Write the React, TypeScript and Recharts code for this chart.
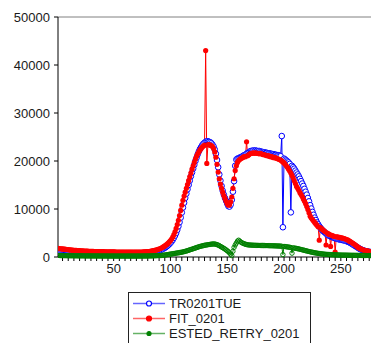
import { LineChart, Line, XAxis, YAxis, ReferenceLine } from 'recharts';

// values for x = 1 .. 288
const tr0201tue = [
  1300, 1280, 1250, 1230, 1200, 1180, 1160, 1140, 1120, 1100,
  1080, 1060, 1050, 1030, 1020, 1000, 990, 980, 970, 960,
  950, 940, 930, 920, 910, 900, 900, 890, 880, 870,
  870, 860, 860, 850, 850, 840, 840, 830, 830, 820,
  820, 820, 810, 810, 800, 800, 800, 790, 790, 790,
  780, 780, 780, 770, 770, 770, 760, 760, 760, 760,
  750, 750, 750, 750, 750, 750, 750, 760, 760, 760,
  770, 770, 780, 790, 800, 810, 820, 840, 860, 880,
  900, 930, 960, 1000, 1040, 1090, 1140, 1200, 1270, 1350,
  1440, 1540, 1650, 1780, 1920, 2080, 2260, 2460, 2690, 2950,
  3240, 3580, 3980, 4450, 5000, 5650, 6400, 7250, 8200, 9250,
  10300, 11300, 12300, 13200, 14100, 15000, 15900, 16800, 17600, 18400,
  19200, 20000, 20700, 21400, 22000, 22500, 22900, 23300, 23600, 23800,
  24000, 24100, 24100, 24000, 23900, 23700, 23400, 23000, 22400, 21500,
  20200, 18700, 17200, 15900, 14800, 13800, 13000, 12300, 11700, 11100,
  10600, 10500, 10900, 11900, 13600, 15800, 19000, 20300, 20500, 20600,
  20700, 20800, 20900, 21100, 21200, 21300, 21500, 21700, 21800, 22000,
  22100, 22100, 22200, 22100, 22200, 22100, 22000, 22100, 22000, 21900,
  21900, 21800, 21800, 21700, 21700, 21600, 21600, 21500, 21500, 21400,
  21400, 21300, 21300, 21200, 21200, 21100, 21000, 25200, 6200, 20500,
  20300, 20100, 19900, 19700, 19400, 9300, 19000, 18700, 18400, 18000,
  17600, 17200, 16800, 16300, 15800, 15300, 14800, 14200, 13600, 13000,
  12300, 11600, 10800, 10100, 9400, 8800, 8200, 7700, 7200, 6800,
  6400, 6100, 5800, 5500, 5300, 5100, 4900, 4700, 4500, 4400,
  4300, 4200, 4100, 4000, 3900, 3850, 3800, 3700, 3650, 3600,
  3550, 3500, 3450, 3400, 3300, 3200, 3100, 3000, 2850, 2700,
  2550, 2400, 2250, 2100, 1950, 1800, 1650, 1550, 1450, 1350,
  1280, 1220, 1160, 1110, 1070, 1030, 1000, 980, 960, 940,
  920, 900, 890, 880, 870, 860, 850, 840,
];

const fit0201 = [
  1800, 1760, 1720, 1700, 1680, 1640, 1620, 1580, 1560, 1530,
  1500, 1480, 1450, 1430, 1410, 1390, 1370, 1350, 1330, 1310,
  1290, 1280, 1260, 1250, 1240, 1220, 1210, 1200, 1190, 1180,
  1170, 1160, 1150, 1150, 1140, 1130, 1120, 1120, 1110, 1100,
  1100, 1090, 1090, 1080, 1080, 1070, 1070, 1060, 1060, 1050,
  1050, 1040, 1040, 1040, 1030, 1030, 1020, 1020, 1020, 1010,
  1010, 1010, 1000, 1000, 1000, 1000, 1000, 1010, 1000, 1010,
  1010, 1020, 1020, 1030, 1040, 1050, 1060, 1080, 1100, 1120,
  1150, 1180, 1220, 1260, 1310, 1370, 1430, 1500, 1580, 1670,
  1770, 1880, 2010, 2150, 2310, 2480, 2680, 2900, 3150, 3430,
  3750, 4150, 4650, 5250, 5950, 6750, 7650, 8650, 9700, 10800,
  11800, 12700, 13500, 14300, 15100, 15900, 16700, 17500, 18300, 19000,
  19700, 20400, 21000, 21500, 21900, 22300, 22600, 22900, 23100, 23300,
  43000, 19500, 23400, 23400, 23300, 23200, 23000, 22600, 21900, 20800,
  19300, 17700, 16300, 15200, 14300, 13500, 12800, 12200, 11600, 11100,
  10800, 10900, 11500, 12500, 14300, 16300, 18000, 19000, 19700, 20100,
  20300, 20500, 20600, 20800, 20900, 20900, 24000, 21100, 21300, 21500,
  21600, 21600, 21700, 21600, 21700, 21600, 21600, 21500, 21600, 21500,
  21400, 21300, 21300, 21200, 21100, 21100, 21000, 20900, 20900, 20800,
  20700, 20700, 20600, 20500, 20400, 20300, 20200, 20000, 19800, 19600,
  19300, 19000, 18700, 18300, 17900, 17500, 17000, 16500, 15900, 15300,
  14700, 14300, 13900, 13400, 13000, 12600, 12100, 11600, 11100, 10500,
  9900, 9200, 8500, 8100, 7800, 7500, 7200, 6900, 6600, 6300,
  3500, 6100, 5900, 5700, 5500, 5300, 2500, 5000, 4800, 4700,
  2200, 4500, 4400, 4300, 1000, 4200, 4200, 4100, 4100, 4000,
  4000, 3900, 3850, 3750, 3650, 3550, 3400, 3250, 3100, 2950,
  2800, 2650, 2450, 2250, 2050, 1900, 1750, 1650, 1550, 1450,
  1380, 1320, 1270, 1220, 1170, 1120, 1090, 1060, 1040, 1020,
  1000, 990, 980, 970, 960, 950, 940, 930,
];

const estedRetry0201 = [
  320, 310, 300, 300, 290, 290, 280, 280, 270, 270,
  270, 260, 260, 260, 250, 250, 250, 250, 240, 240,
  240, 240, 240, 230, 230, 230, 230, 230, 230, 220,
  220, 220, 220, 220, 220, 220, 210, 210, 210, 210,
  210, 210, 210, 210, 210, 200, 200, 200, 200, 200,
  200, 200, 200, 200, 200, 200, 200, 200, 200, 200,
  200, 200, 200, 200, 200, 200, 200, 200, 200, 200,
  200, 200, 200, 200, 210, 210, 210, 210, 220, 220,
  220, 230, 230, 240, 250, 260, 270, 280, 290, 300,
  310, 330, 350, 380, 410, 440, 480, 520, 560, 600,
  640, 680, 720, 760, 800, 840, 880, 920, 960, 1000,
  1060, 1120, 1180, 1250, 1320, 1400, 1480, 1560, 1640, 1720,
  1800, 1880, 1960, 2040, 2120, 2200, 2260, 2320, 2380, 2430,
  2480, 2520, 2560, 2600, 2640, 2670, 2700, 2720, 2700, 2650,
  2580, 2480, 2360, 2220, 2080, 1950, 1800, 1650, 1480, 1300,
  1100, 850, 600, 300, 1200, 2000, 2500, 2900, 3300, 3500,
  3300, 3100, 2950, 2850, 2750, 2650, 2600, 2550, 2500, 2500,
  2480, 2460, 2450, 2440, 2430, 2420, 2420, 2410, 2400, 2400,
  2400, 2390, 2390, 2380, 2380, 2370, 2360, 2350, 2350, 2340,
  2330, 2320, 2310, 2300, 2290, 2280, 2260, 2240, 500, 2200,
  2170, 2140, 2100, 2060, 2020, 1980, 800, 1900, 1860, 1820,
  1780, 1730, 1680, 1620, 1560, 1500, 1440, 1380, 1320, 1260,
  1200, 1140, 1080, 1030, 980, 930, 880, 840, 800, 760,
  720, 690, 660, 630, 600, 580, 560, 540, 520, 500,
  490, 480, 470, 460, 450, 440, 430, 420, 410, 400,
  400, 390, 390, 380, 380, 370, 370, 360, 360, 350,
  350, 350, 340, 340, 340, 330, 330, 330, 320, 320,
  320, 310, 310, 310, 300, 300, 300, 300, 290, 290,
  290, 290, 280, 280, 280, 280, 270, 270,
];

const yTicks = [0, 10000, 20000, 30000, 40000, 50000];
const xLabels = [50, 100, 150, 200, 250];
const xTicks = Array.from({ length: 57 }, (_, i) => (i + 1) * 5);

const BLUE = '#0000ff';
const RED = '#ff0000';
const GREEN = '#008000';

const data = fit0201.map((v, i) => ({
  x: i + 1,
  tr: tr0201tue[i],
  fit: v,
  retry: estedRetry0201[i],
}));

const tickStyle = { fontSize: 13, fill: '#1a1a1a', fontFamily: 'Arial, "Liberation Sans", sans-serif' };

const legendItems = [
  { name: 'TR0201TUE', color: BLUE, fill: '#fff', r: 2.5 },
  { name: 'FIT_0201', color: RED, fill: RED, r: 2.5 },
  { name: 'ESTED_RETRY_0201', color: GREEN, fill: GREEN, r: 2 },
];

export default function App() {
  return (
    <div
      style={{
        position: 'absolute',
        left: 0,
        top: 0,
        width: 371,
        height: 343,
        overflow: 'hidden',
        background: '#fff',
      }}
    >
      <LineChart width={390} height={343} data={data} margin={{ top: 17, right: 6, bottom: 56, left: 0 }}>
        <XAxis
          dataKey="x"
          type="number"
          domain={[1, 288]}
          ticks={xTicks}
          interval={0}
          tickFormatter={(v: number) => (xLabels.includes(v) ? String(v) : '')}
          tick={tickStyle}
          tickSize={4}
          tickMargin={3}
          height={30}
          stroke="#000"
          allowDataOverflow
        />
        <YAxis
          type="number"
          domain={[0, 50000]}
          ticks={yTicks}
          interval={0}
          tick={tickStyle}
          tickSize={4}
          tickMargin={4}
          width={58}
          stroke="#000"
        />
        <ReferenceLine y={50000} stroke="#808080" strokeWidth={1} />
        <Line
          dataKey="tr"
          stroke={BLUE}
          strokeWidth={1}
          dot={{ r: 2.8, stroke: BLUE, fill: '#fff', strokeWidth: 1 }}
          isAnimationActive={false}
        />
        <Line
          dataKey="fit"
          stroke={RED}
          strokeWidth={1}
          dot={{ r: 2.6, stroke: 'none', fill: RED }}
          isAnimationActive={false}
        />
        <Line
          dataKey="retry"
          stroke={GREEN}
          strokeWidth={1}
          dot={{ r: 2.2, stroke: GREEN, fill: 'none', strokeWidth: 1 }}
          isAnimationActive={false}
        />
      </LineChart>
      <div
        style={{
          position: 'absolute',
          left: 128,
          top: 292,
          width: 181,
          height: 70,
          border: '1px solid #222',
          background: '#fff',
          fontFamily: 'Arial, "Liberation Sans", sans-serif',
          fontSize: 13,
          color: '#1a1a1a',
        }}
      >
        {legendItems.map((it, i) => (
          <div
            key={it.name}
            style={{ position: 'absolute', left: 0, top: 3 + i * 15, height: 15, lineHeight: '15px', whiteSpace: 'nowrap' }}
          >
            <svg width={36} height={15} style={{ position: 'absolute', left: 3, top: 0 }}>
              <line x1={1} y1={7.5} x2={33} y2={7.5} stroke={it.color} strokeWidth={1.5} opacity={0.6} />
              <circle cx={17} cy={7.5} r={it.r} stroke={it.color} fill={it.fill} strokeWidth={1.2} />
            </svg>
            <span style={{ position: 'absolute', left: 40, top: 0 }}>{it.name}</span>
          </div>
        ))}
      </div>
    </div>
  );
}
